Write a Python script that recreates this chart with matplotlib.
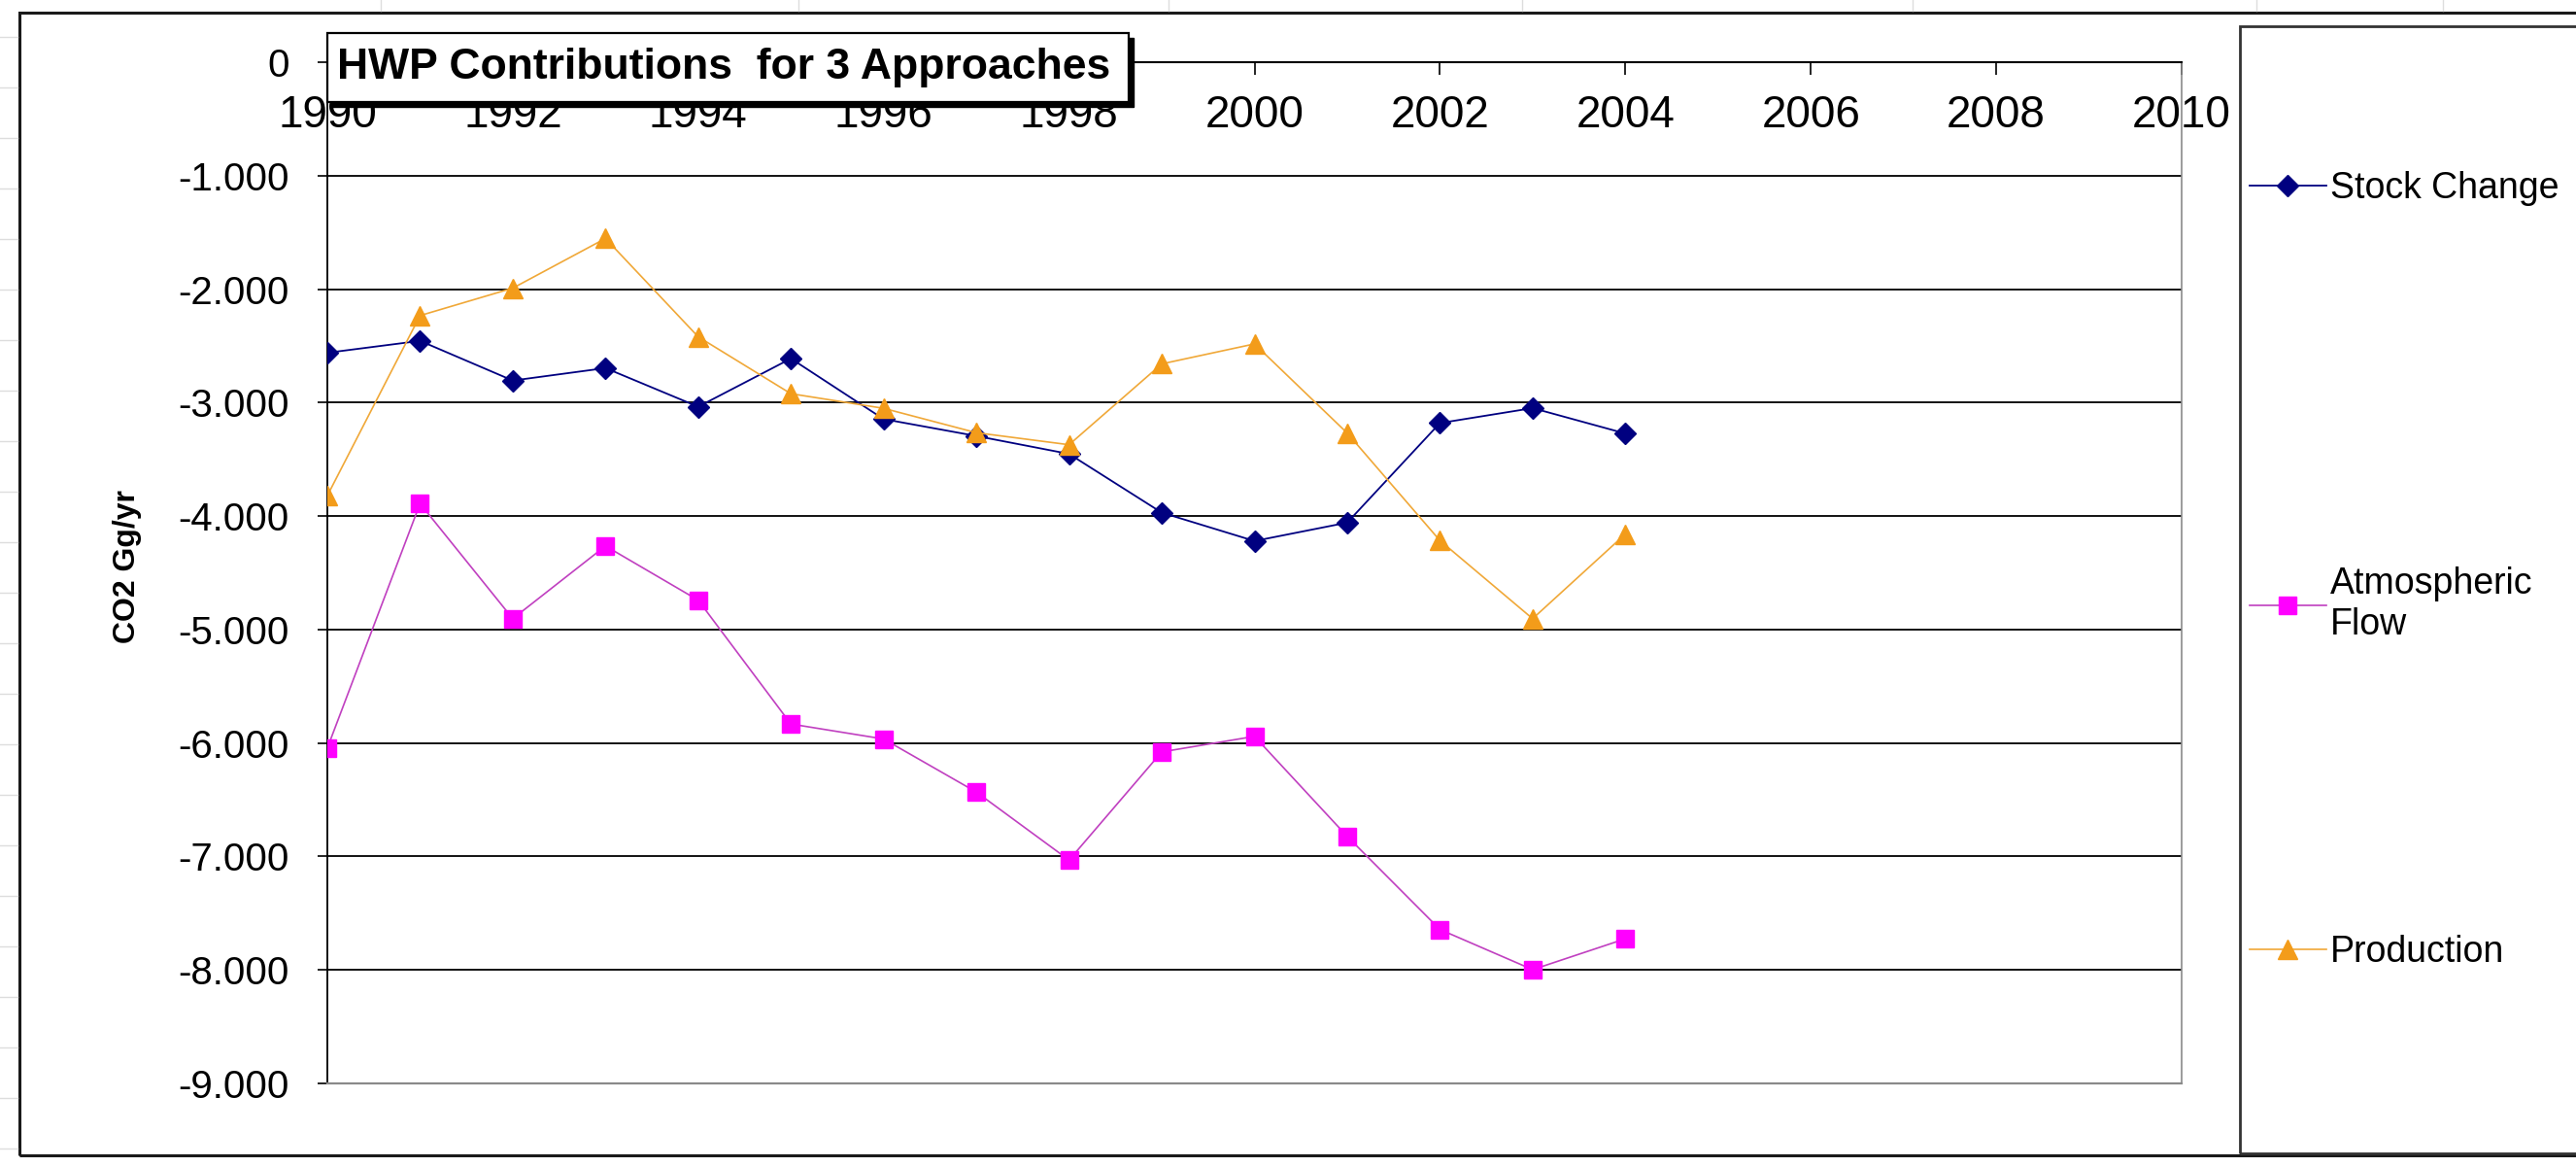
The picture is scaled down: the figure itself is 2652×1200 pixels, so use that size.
import matplotlib
matplotlib.use("Agg")
import matplotlib.pyplot as plt
from matplotlib.patches import Rectangle
from matplotlib.lines import Line2D
from matplotlib.ticker import FuncFormatter

# data (CO2 Gg/yr)
years = list(range(1990, 2005))
stock_change = [-2560, -2455, -2805, -2695, -3036, -2611, -3145, -3294, -3452, -3970,
                -4220, -4058, -3180, -3048, -3272]
atmospheric_flow = [-6046, -3890, -4905, -4264, -4742, -5834, -5966, -6434, -7034, -6080,
                    -5943, -6825, -7646, -8000, -7728]
production = [-3820, -2232, -1990, -1552, -2419, -2921, -3050, -3265, -3371, -2658,
              -2482, -3268, -4216, -4905, -4159]

x_ticks = list(range(1990, 2011, 2))
y_ticks = list(range(-9000, 1, 1000))
titre = "HWP Contributions  for 3 Approaches"

plt.rcParams["font.family"] = ["Liberation Sans", "DejaVu Sans"]

W, H = 2652, 1200
fig = plt.figure(figsize=(W / 100, H / 100), dpi=100)
fig.patch.set_facecolor("white")

def fx(px):
    return px / W

def fy(py):
    return 1 - py / H

# faint spreadsheet cells behind the chart
for yy in range(38, 1200, 52):
    fig.add_artist(Line2D([0, fx(18)], [fy(yy), fy(yy)], color="#dddddd", lw=1))
for xx in [392, 822, 1203, 1567, 1969, 2323, 2515]:
    fig.add_artist(Line2D([fx(xx), fx(xx)], [1, fy(11)], color="#dddddd", lw=1))

# chart area frame + legend box
fig.add_artist(Rectangle((fx(20), fy(1189)), 1.0, (1189 - 13) / H, fill=False,
                         ec="#1a1a1a", lw=2.2))
fig.add_artist(Rectangle((fx(2306), fy(1187)), 0.5, (1187 - 27) / H, fill=False,
                         ec="#333333", lw=2))

ax = fig.add_axes([fx(337), fy(1114.6), (2246 - 337) / W, (1114.6 - 64.3) / H])
ax.set_facecolor("white")

ax.plot(years, stock_change, color="#000080", lw=1.3, marker="D", ms=11,
        mfc="#000080", mec="#000080", label="Stock Change", zorder=4)
ax.plot(years, atmospheric_flow, color="#c040c0", lw=1.2, marker="s", ms=13,
        mfc="#ff00ff", mec="#ff00ff", label="Atmospheric\nFlow", zorder=4)
ax.plot(years, production, color="#f0a838", lw=1.2, marker="^", ms=15,
        mfc="#f39c1a", mec="#f39c1a", label="Production", zorder=4)

ax.set_xlim(1990, 2010)
ax.set_ylim(-9000, 0)
ax.set_xticks(x_ticks)
ax.set_yticks(y_ticks)
ax.yaxis.set_major_formatter(FuncFormatter(lambda v, p: f"{int(v):,}".replace(",", ".")))
ax.grid(axis="y", color="black", lw=1.3)
ax.set_axisbelow(True)

# x axis sits on the zero line, at the top of the plot
ax.spines["bottom"].set_position(("data", 0))
ax.spines["bottom"].set_color("black")
ax.spines["bottom"].set_linewidth(1.5)
ax.spines["top"].set_position(("data", -9000))
ax.spines["top"].set_color("#8a8a8a")
ax.spines["top"].set_linewidth(1.6)
ax.spines["right"].set_color("#8a8a8a")
ax.spines["right"].set_linewidth(1.2)
ax.spines["left"].set_color("black")
ax.spines["left"].set_linewidth(1.3)

ax.tick_params(axis="x", direction="out", length=9.5, width=1.2, pad=14,
               labelsize=33, colors="black")
ax.tick_params(axis="y", direction="out", length=7.5, width=1.2, pad=21,
               labelsize=29, colors="black")

ax.set_ylabel("CO2 Gg/yr", fontsize=23, fontweight="bold")
ax.yaxis.set_label_coords(-0.100, 0.506)

# title box with shadow
fig.add_artist(Rectangle((fx(342), fy(110)), (1167 - 342) / W, 71 / H, fc="black", ec="black"))
fig.add_artist(Rectangle((fx(337), fy(105)), (1162 - 337) / W, 71 / H, fc="white",
                         ec="black", lw=1.6))
fig.text(fx(745), fy(70), titre, fontsize=32, fontweight="bold", ha="center", va="center")

# legend: the two-line entry pushes Production down, so it gets its own block
handles, labels = ax.get_legend_handles_labels()
opts = dict(loc="upper left", frameon=False, fontsize=27, handlelength=2.1,
            handletextpad=0.12, borderaxespad=0, borderpad=0, markerscale=1.0)
fig.legend(handles[:2], labels[:2], bbox_to_anchor=(fx(2316), fy(176)),
           labelspacing=9.9, **opts)
fig.legend(handles[2:], labels[2:], bbox_to_anchor=(fx(2316), fy(962)), **opts)

fig.savefig("out.png", dpi=100, facecolor="white")
